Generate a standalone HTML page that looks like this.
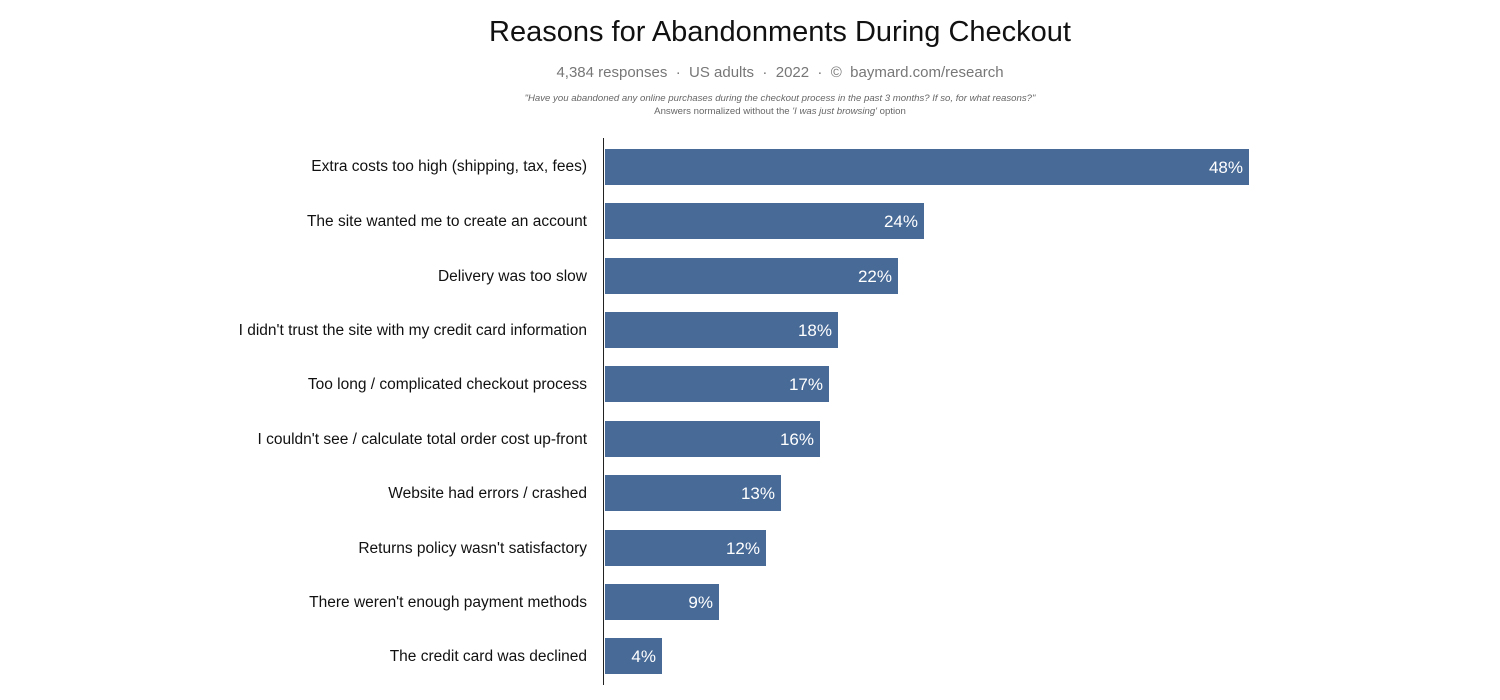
<!DOCTYPE html>
<html><head><style>
body{margin:0;width:1500px;height:700px;background:#fff;font-family:"Liberation Sans",Arial,sans-serif;position:relative;overflow:hidden}
.c{position:absolute;left:280px;width:1000px;text-align:center;white-space:nowrap}
.l{position:absolute;right:913px;font-size:15.5px;color:#111;white-space:nowrap;line-height:18px}
.b{position:absolute;left:605px;height:36px;background:#476a97;color:#fff;font-size:17px;text-align:right;line-height:38px;box-sizing:border-box;padding-right:6px}
</style></head><body>
<div class="c" style="top:16px;font-size:29px;color:#111">Reasons for Abandonments During Checkout</div>
<div class="c" style="top:64px;font-size:15px;color:#777">4,384 responses &nbsp;·&nbsp; US adults &nbsp;·&nbsp; 2022 &nbsp;·&nbsp; © &nbsp;baymard.com/research</div>
<div class="c" style="top:93px;font-size:9.6px;color:#666;font-style:italic">"Have you abandoned any online purchases during the checkout process in the past 3 months? If so, for what reasons?"</div>
<div class="c" style="top:106px;font-size:9.6px;color:#666">Answers normalized without the <i>'I was just browsing'</i> option</div>
<div style="position:absolute;left:603px;top:138px;width:1px;height:547px;background:#222"></div>

<div class="l" style="top:158px">Extra costs too high (shipping, tax, fees)</div>
<div class="b" style="top:149px;width:644px">48%</div>
<div class="l" style="top:213px">The site wanted me to create an account</div>
<div class="b" style="top:203px;width:319px">24%</div>
<div class="l" style="top:268px">Delivery was too slow</div>
<div class="b" style="top:258px;width:293px">22%</div>
<div class="l" style="top:322px">I didn't trust the site with my credit card information</div>
<div class="b" style="top:312px;width:233px">18%</div>
<div class="l" style="top:376px">Too long / complicated checkout process</div>
<div class="b" style="top:366px;width:224px">17%</div>
<div class="l" style="top:431px">I couldn't see / calculate total order cost up-front</div>
<div class="b" style="top:421px;width:215px">16%</div>
<div class="l" style="top:485px">Website had errors / crashed</div>
<div class="b" style="top:475px;width:176px">13%</div>
<div class="l" style="top:540px">Returns policy wasn't satisfactory</div>
<div class="b" style="top:530px;width:161px">12%</div>
<div class="l" style="top:594px">There weren't enough payment methods</div>
<div class="b" style="top:584px;width:114px">9%</div>
<div class="l" style="top:648px">The credit card was declined</div>
<div class="b" style="top:638px;width:57px">4%</div>
</body></html>
